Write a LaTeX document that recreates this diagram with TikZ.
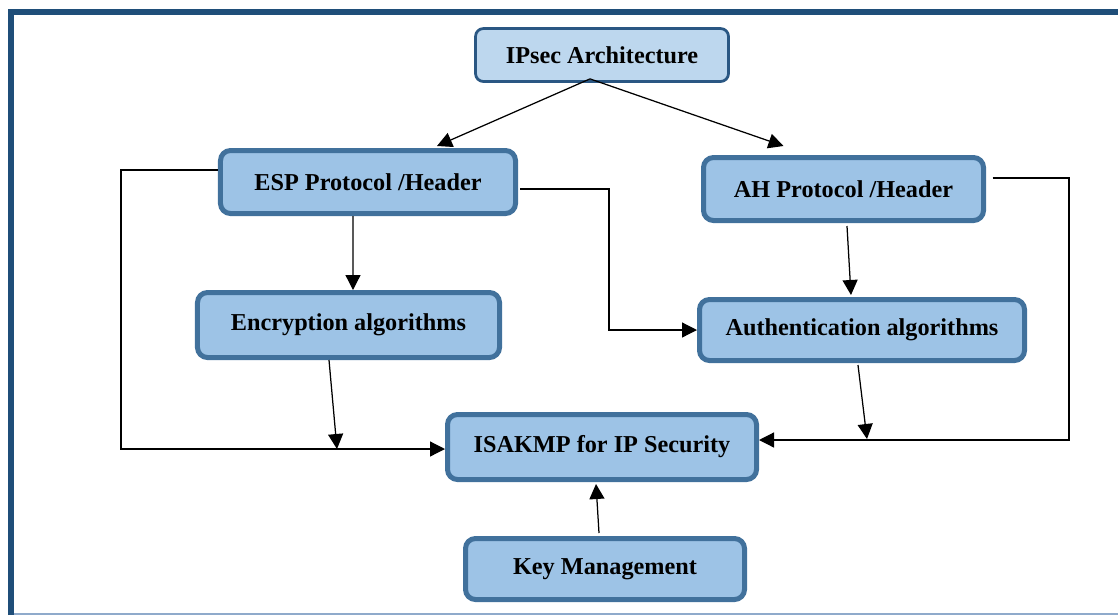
\documentclass[tikz,border=0pt]{standalone}
\usepackage{fontspec}
\setmainfont{Liberation Serif}
\usepackage{xcolor}
\usetikzlibrary{arrows.meta, positioning, calc}

\definecolor{boxfill}{HTML}{9DC3E6}
\definecolor{boxline}{HTML}{41719C}
\definecolor{topfill}{HTML}{BDD7EE}
\definecolor{topline}{HTML}{2A5783}
\definecolor{framecol}{HTML}{1F4E79}
\definecolor{framelow}{HTML}{8FAACB}

\begin{document}
\begin{tikzpicture}[x=0.2mm, y=-0.2mm,
    blk/.style={draw=boxline, fill=boxfill, line width=1mm, rounded corners=2mm,
        inner sep=0pt, font=\bfseries\fontsize{13.8}{16}\selectfont},
    topblk/.style={blk, draw=topline, fill=topfill, line width=0.55mm, rounded corners=1.6mm},
    arr/.style={-{Triangle[length=3mm, width=3mm]}, line width=0.25mm}]
    \useasboundingbox (0,0) rectangle (1118,615);

    % 外框
    \draw[framecol, line width=1.2mm] (11,615) -- (11,12) -- (1118,12);
    \draw[framelow, line width=0.3mm] (14,614) -- (1118,614);

    % 方框
    \node[topblk, minimum width=50.6mm, minimum height=10.6mm] (arch) at (602,55) {\raisebox{-0.5mm}{IPsec Architecture}};
    \node[blk, minimum width=59mm, minimum height=12.6mm] (esp) at (368,182) {ESP Protocol /Header};
    \node[blk, minimum width=56mm, minimum height=12.6mm] (ah) at (843.5,189) {AH Protocol /Header};
    \node[blk, minimum width=60.4mm, minimum height=13mm] (enc) at (348.5,325) {Encryption algorithms};
    \node[blk, minimum width=65mm, minimum height=12.2mm] (auth) at (862,330) {Authentication algorithms};
    \node[blk, minimum width=61.8mm, minimum height=13mm] (isak) at (602,447) {ISAKMP for IP Security};
    \node[blk, minimum width=55.8mm, minimum height=12.2mm] (key) at (605,569) {Key Management};

    % 折线的拐点
    \coordinate (espbend) at (609,189);
    \coordinate (leftbend) at (121,449);
    \coordinate (rightbend) at (1069,440);
    \coordinate (encin) at (337,449);
    \coordinate (authin) at (867,439);

    % 箭头
    \draw[arr] ($(arch.south)+(-12,-4)$) -- ($(esp.north)+(69,-2)$);
    \draw[arr] ($(arch.south)+(-12,-4)$) -- ($(ah.north)+(-60,-9)$);
    \draw[arr] ($(esp.south)+(-15,0)$) -- ($(enc.north)+(4.5,0)$);
    \draw[arr] ($(ah.south)+(3.5,3)$) -- ($(auth.north)+(-11,-2)$);
    \draw[arr] ($(esp.east)+(2,7)$) -- (espbend) |- (auth.west);
    \draw[arr] ($(esp.west)+(0,-12)$) -| (leftbend) -- (leftbend -| isak.west);
    \draw[arr] ($(enc.south)+(-19.5,0)$) -- (encin);
    \draw[arr] ($(ah.east)+(6.5,-11)$) -| (rightbend) -- (rightbend -| isak.east);
    \draw[arr] ($(auth.south)+(-4,2)$) -- (authin);
    \draw[arr] ($(key.north)+(-6,-3)$) -- ($(isak.south)+(-6,2)$);
\end{tikzpicture}
\end{document}
